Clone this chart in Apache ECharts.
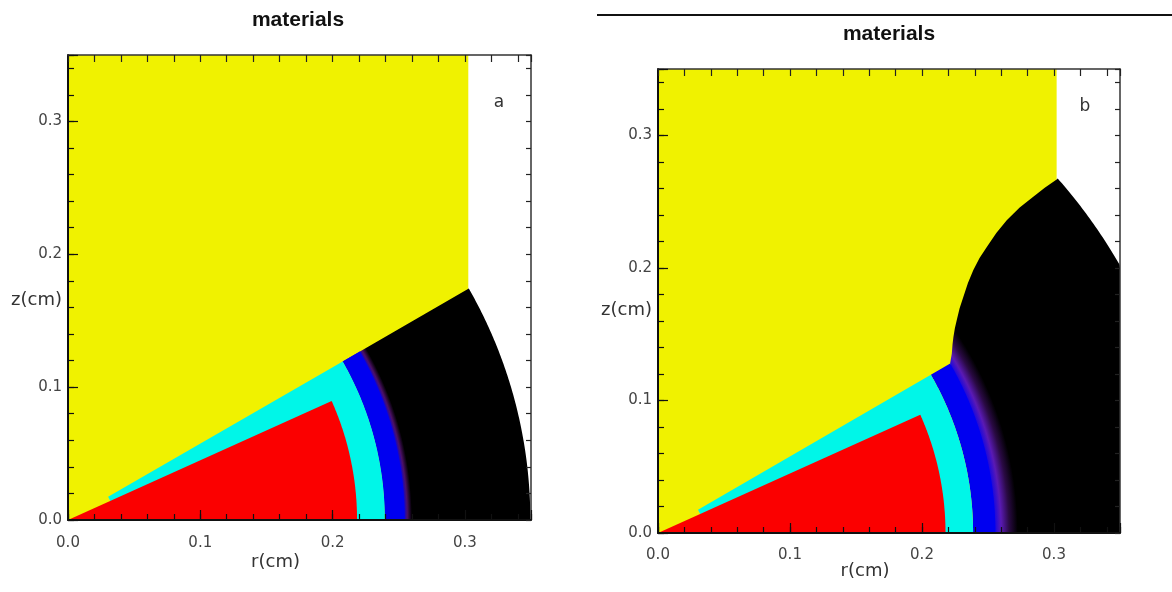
<!DOCTYPE html>
<html>
<head>
<meta charset="utf-8">
<script src="https://cdn.jsdelivr.net/npm/echarts@6/dist/echarts.min.js"></script>
<style>
html,body{margin:0;padding:0;background:#ffffff;}
#chart{width:1172px;height:592px;}
</style>
</head>
<body>
<div id="chart"></div>
<script>
// ---------------- axis values ----------------
const tickLabels = ['0.0', '0.1', '0.2', '0.3'];
const axisMin = 0;
const axisMax = 0.35;
const majorStep = 0.1;
const minorStep = 0.02;
const panelTitles = ['materials', 'materials'];
const panelLetters = ['a', 'b'];
const axisNames = ['r(cm)', 'z(cm)'];

// ---------------- panel a (cm, degrees) ----------------
const aYellowEdge = 0.3026;   // yellow region ends at this r
const aWedgeAngle = 29.9;     // upper edge of cyan / blue / black shells
const aRedAngle = 24.2;       // upper edge of red core
const aRedOuter = 0.2185;
const aCyanInner = 0.035;
const aCyanOuter = 0.2395;
const aBlueOuter = 0.2545;
const aBlackOuter = 0.3495;
const aFadeRadii = [0.2535, 0.2565, 0.2600];      // blue -> purple -> black
const aLetterPos = [0.3258, 0.3145];

// ---------------- panel b (cm, degrees) ----------------
const bYellowEdge = 0.302;
const bWedgeAngle = 30.0;
const bRedAngle = 24.2;
const bRedOuter = 0.2178;
const bCyanInner = 0.035;
const bCyanOuter = 0.2387;
const bBlueOuter = 0.2556;
const bShockOuter = 0.404;    // radius of outer (right) front of black region
const bShockFront = [         // yellow / black boundary, bottom to top
  [0.2213, 0.1278], [0.2220, 0.1320], [0.2226, 0.1354], [0.2231, 0.1420],
  [0.2238, 0.1479], [0.2249, 0.1545], [0.2263, 0.1605], [0.2285, 0.1695],
  [0.2313, 0.1781], [0.2348, 0.1885], [0.2389, 0.1983], [0.2436, 0.2075],
  [0.2491, 0.2158], [0.2563, 0.2262], [0.2642, 0.2360], [0.2740, 0.2455],
  [0.2843, 0.2536], [0.2930, 0.2605], [0.3020, 0.2667]
];
const bFadeRadii = [0.2535, 0.2600, 0.2660, 0.2725];
const bLetterPos = [0.3235, 0.3213];

// ---------------- styles ----------------
const C = { yellow: '#f0f200', red: '#fb0000', cyan: '#00f6e8', blue: '#0000f0', black: '#000000' };
const aFadeColors = ['#0000f0', '#4c1066', '#000000'];
const bFadeColors = ['#0000f0', '#5a1ab4', '#2a0a44', '#000000'];
const FONT = '"DejaVu Sans", sans-serif';

// ---------------- shape descriptors ----------------
const aShapes = [
  { kind: 'rect', x1: aYellowEdge, color: C.yellow },
  { kind: 'sector', r0: aCyanOuter, r1: aBlackOuter, ang: aWedgeAngle, fade: [aFadeRadii, aFadeColors] },
  { kind: 'sector', r0: aCyanOuter, r1: aBlueOuter, ang: aWedgeAngle, color: C.blue },
  { kind: 'sector', r0: aCyanInner, r1: aCyanOuter, ang: aWedgeAngle, color: C.cyan },
  { kind: 'sector', r0: 0, r1: aRedOuter, ang: aRedAngle, color: C.red },
  { kind: 'text', pos: aLetterPos, text: panelLetters[0] }
];
const bShapes = [
  { kind: 'rect', x1: bYellowEdge, color: C.yellow },
  { kind: 'shock', front: bShockFront, start: bBlueOuter, outer: bShockOuter, fade: [bFadeRadii, bFadeColors] },
  { kind: 'sector', r0: bCyanOuter, r1: bBlueOuter, ang: bWedgeAngle, color: C.blue },
  { kind: 'sector', r0: bCyanInner, r1: bCyanOuter, ang: bWedgeAngle, color: C.cyan },
  { kind: 'sector', r0: 0, r1: bRedOuter, ang: bRedAngle, color: C.red },
  { kind: 'text', pos: bLetterPos, text: panelLetters[1] }
];

const D2R = Math.PI / 180;
function arc(api, r, a0, a1, out) {
  const N = 120;
  for (let i = 0; i <= N; i++) {
    const t = (a0 + (a1 - a0) * i / N) * D2R;
    out.push(api.coord([Math.min(r * Math.cos(t), axisMax), Math.min(r * Math.sin(t), axisMax)]));
  }
}
function fadeFill(api, radii, colors, outer) {
  const c = api.coord([0, 0]);
  const R = api.size([outer, 0])[0];
  return {
    type: 'radial', x: c[0], y: c[1], r: R, global: true,
    colorStops: radii.map((r, i) => ({ offset: r / outer, color: colors[i] }))
  };
}
function draw(s, api) {
  if (s.kind === 'rect') {
    const pts = [[0, 0], [s.x1, 0], [s.x1, axisMax], [0, axisMax]].map(p => api.coord(p));
    return { type: 'polygon', shape: { points: pts }, style: { fill: s.color } };
  }
  if (s.kind === 'sector') {
    const pts = [];
    arc(api, s.r1, 0, s.ang, pts);
    if (s.r0 > 0) arc(api, s.r0, s.ang, 0, pts); else pts.push(api.coord([0, 0]));
    const fill = s.fade ? fadeFill(api, s.fade[0], s.fade[1], s.r1) : s.color;
    return { type: 'polygon', shape: { points: pts }, style: { fill: fill } };
  }
  if (s.kind === 'shock') {
    const pts = [api.coord([s.start, 0])];
    s.front.forEach(p => pts.push(api.coord(p)));
    const top = s.front[s.front.length - 1];
    const topAng = Math.atan2(top[1], top[0]) / D2R;
    arc(api, s.outer, topAng, 0, pts);
    return { type: 'polygon', shape: { points: pts },
      style: { fill: fadeFill(api, s.fade[0], s.fade[1], s.outer) } };
  }
  if (s.kind === 'text') {
    const p = api.coord(s.pos);
    return { type: 'text', x: p[0], y: p[1],
      style: { text: s.text, fill: '#333', font: '17px ' + FONT,
        align: 'center', verticalAlign: 'middle', textAlign: 'center', textVerticalAlign: 'middle' } };
  }
}

function fmt(v) {
  const s = v.toFixed(1);
  return (tickLabels.indexOf(s) >= 0 && Math.abs(v - parseFloat(s)) < 1e-9) ? s : '';
}

function axesFor(g, xLabelMargin, xNameGap, yNameLineHeight) {
  const base = { gridIndex: g, type: 'value', min: axisMin, max: axisMax, z: 10,
    splitLine: { show: false }, nameMoveOverlap: false };
  const xs = [
    Object.assign({}, base, { position: 'bottom', interval: majorStep,
      axisLine: { show: true, onZero: false, lineStyle: { color: '#111', width: 2 } },
      axisTick: { show: true, inside: true, length: 10, lineStyle: { color: '#111', width: 1.2 } },
      axisLabel: { show: true, margin: xLabelMargin, formatter: fmt, color: '#444', fontFamily: FONT, fontSize: 15 },
      name: axisNames[0], nameLocation: 'middle', nameGap: xNameGap,
      nameTextStyle: { color: '#333', fontFamily: FONT, fontSize: 18, padding: [0, 48, 0, 0] } }),
    Object.assign({}, base, { position: 'bottom', interval: minorStep,
      axisLine: { show: false, onZero: false },
      axisTick: { show: true, inside: true, length: 6, lineStyle: { color: '#111', width: 1.2 } },
      axisLabel: { show: false } }),
    Object.assign({}, base, { position: 'top', interval: minorStep,
      axisLine: { show: true, onZero: false, lineStyle: { color: '#333', width: 1.5 } },
      axisTick: { show: true, inside: true, length: 7, lineStyle: { color: '#222', width: 1.2 } },
      axisLabel: { show: false } })
  ];
  const ys = [
    Object.assign({}, base, { position: 'left', interval: majorStep,
      axisLine: { show: true, onZero: false, lineStyle: { color: '#111', width: 2 } },
      axisTick: { show: true, inside: true, length: 10, lineStyle: { color: '#111', width: 1.2 } },
      axisLabel: { show: true, margin: 6, formatter: fmt, color: '#444', fontFamily: FONT, fontSize: 15 },
      name: axisNames[1], nameLocation: 'middle', nameRotate: 0, nameGap: 6,
      nameTextStyle: { color: '#333', fontFamily: FONT, fontSize: 18,
        verticalAlign: 'top', lineHeight: yNameLineHeight } }),
    Object.assign({}, base, { position: 'left', interval: minorStep,
      axisLine: { show: false, onZero: false },
      axisTick: { show: true, inside: true, length: 6, lineStyle: { color: '#111', width: 1.2 } },
      axisLabel: { show: false } }),
    Object.assign({}, base, { position: 'right', interval: minorStep,
      axisLine: { show: true, onZero: false, lineStyle: { color: '#333', width: 1.5 } },
      axisTick: { show: true, inside: true, length: 5, lineStyle: { color: '#222', width: 1.2 } },
      axisLabel: { show: false } })
  ];
  return [xs, ys];
}

const [xa, ya] = axesFor(0, 16, 33, 25);
const [xb, yb] = axesFor(1, 15, 29, 18);

const chart = echarts.init(document.getElementById('chart'), null, { renderer: 'canvas' });
chart.setOption({
  animation: false,
  backgroundColor: '#ffffff',
  grid: [
    { left: 68, top: 55, width: 463, height: 465, containLabel: false, outerBoundsMode: 'none' },
    { left: 658, top: 69, width: 462, height: 464, containLabel: false, outerBoundsMode: 'none' }
  ],
  xAxis: xa.concat(xb),
  yAxis: ya.concat(yb),
  graphic: [
    { type: 'text', x: 298, y: 20, style: { text: panelTitles[0], font: 'bold 21px "Liberation Sans", Arial, sans-serif',
      fill: '#111', align: 'center', verticalAlign: 'middle', textAlign: 'center', textVerticalAlign: 'middle' } },
    { type: 'text', x: 889, y: 34, style: { text: panelTitles[1], font: 'bold 21px "Liberation Sans", Arial, sans-serif',
      fill: '#111', align: 'center', verticalAlign: 'middle', textAlign: 'center', textVerticalAlign: 'middle' } },
    { type: 'line', shape: { x1: 597, y1: 15, x2: 1172, y2: 15 }, style: { stroke: '#111', lineWidth: 2 } }
  ],
  series: [
    { type: 'custom', xAxisIndex: 0, yAxisIndex: 0, clip: true, silent: true, z: 2,
      data: aShapes.map((s, i) => [i, 0]),
      renderItem: (params, api) => draw(aShapes[params.dataIndex], api) },
    { type: 'custom', xAxisIndex: 3, yAxisIndex: 3, clip: true, silent: true, z: 2,
      data: bShapes.map((s, i) => [i, 0]),
      renderItem: (params, api) => draw(bShapes[params.dataIndex], api) }
  ]
});
</script>
</body>
</html>
